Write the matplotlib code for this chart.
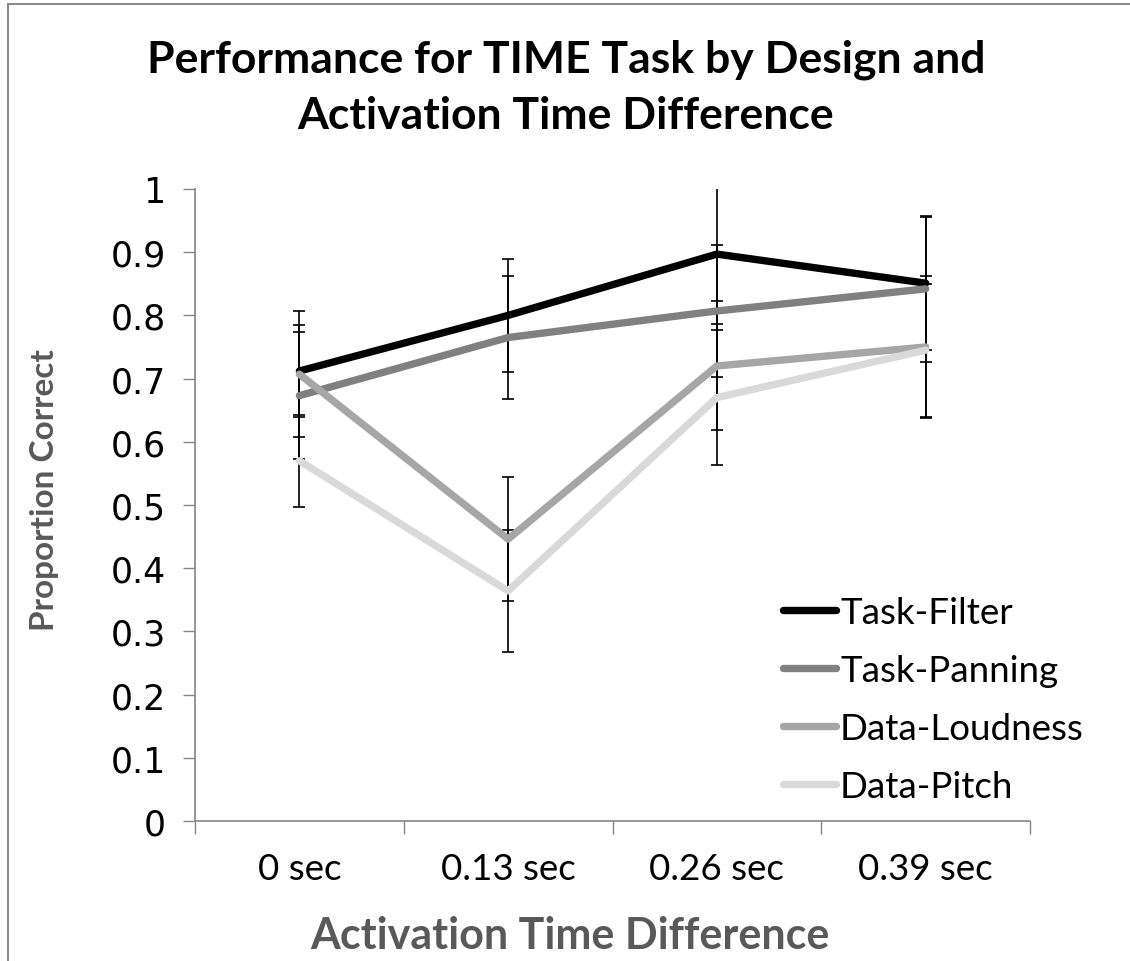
import matplotlib

matplotlib.use("Agg")
import matplotlib.pyplot as plt  # noqa: E402
from matplotlib.lines import Line2D  # noqa: E402

# data
categories = ["0 sec", "0.13 sec", "0.26 sec", "0.39 sec"]
series = ["Task-Filter", "Task-Panning", "Data-Loudness", "Data-Pitch"]
task_filter = [0.712, 0.800, 0.897, 0.851]
task_panning = [0.673, 0.765, 0.807, 0.842]
data_loudness = [0.707, 0.446, 0.720, 0.750]
data_pitch = [0.570, 0.364, 0.670, 0.745]
err_filter = [0.073, 0.090, 0.111, 0.105]
err_panning = [0.100, 0.098, 0.105, 0.115]
err_loudness = [0.100, 0.098, 0.102, 0.113]
err_pitch = [0.073, 0.097, 0.107, 0.105]
y_ticks = [0, 0.1, 0.2, 0.3, 0.4, 0.5, 0.6, 0.7, 0.8, 0.9, 1]
y_ticklabels = ["0", "0.1", "0.2", "0.3", "0.4", "0.5", "0.6", "0.7", "0.8", "0.9", "1"]

COLORS = ["#000000", "#808080", "#a6a6a6", "#d9d9d9"]
AXIS = "#868686"
LABEL = "#595959"
FONT = "Lato"

W, H = 1130, 962
fig = plt.figure(figsize=(W / 100, H / 100), dpi=100)
fig.patch.set_facecolor("white")

# outer chart-area border (left and top edges visible in the reference)
fig.add_artist(Line2D([8 / W, 8 / W], [0, 1 - 5 / H], color="#8c8c8c", lw=1.5))
fig.add_artist(Line2D([8 / W, 1], [1 - 5 / H, 1 - 5 / H], color="#8c8c8c", lw=1.5))

ax = fig.add_axes([195 / W, (H - 822) / H, 835 / W, 632 / H])
xs = list(range(len(categories)))
values = [task_filter, task_panning, data_loudness, data_pitch]
errors = [err_filter, err_panning, err_loudness, err_pitch]

for vals, errs in zip(values, errors):
    ax.errorbar(xs, vals, yerr=errs, fmt="none", ecolor="black", elinewidth=1.2,
                capsize=4, capthick=1.2, zorder=2)
for name, vals, col in zip(series, values, COLORS):
    ax.plot(xs, vals, color=col, lw=5.3, solid_capstyle="round",
            solid_joinstyle="round", label=name, zorder=3)

ax.set_xlim(-0.5, len(categories) - 0.5)
ax.set_ylim(0, 1)
ax.set_yticks(y_ticks)
ax.set_yticklabels(y_ticklabels, fontsize=25, family="DejaVu Sans")
ax.set_xticks(xs)
ax.set_xticklabels(categories, fontsize=26.5, family=FONT)
ax.set_xticks([x - 0.5 for x in xs] + [len(categories) - 0.5], minor=True)
ax.tick_params(axis="x", which="major", length=0, pad=22)
ax.tick_params(axis="x", which="minor", length=9, width=1, color=AXIS, direction="out")
ax.tick_params(axis="y", length=9, width=1, color=AXIS, direction="out", pad=12)
for s in ("top", "right"):
    ax.spines[s].set_visible(False)
for s in ("left", "bottom"):
    ax.spines[s].set_color(AXIS)
    ax.spines[s].set_linewidth(1.2)

ax.set_xlabel("Activation Time Difference", fontsize=31, fontweight="bold",
              color=LABEL, family=FONT)
ax.xaxis.set_label_coords((570 - 195) / 835, (822 - 936) / 632)
ax.xaxis.label.set_va("center")
ax.set_ylabel("Proportion Correct", fontsize=24, fontweight="bold",
              color=LABEL, family=FONT)
ax.yaxis.set_label_coords((45 - 195) / 835, (822 - 490) / 632)
ax.yaxis.label.set_va("center")
fig.text(566 / W, 1 - 88 / H, "Performance for TIME Task by Design and\nActivation Time Difference",
         ha="center", va="center", fontsize=32, fontweight="bold", family=FONT,
         linespacing=1.47)

leg = ax.legend(loc="lower left", bbox_to_anchor=(783 / W, (H - 804) / H),
                bbox_transform=fig.transFigure, frameon=False,
                handlelength=1.45, handletextpad=0.1, labelspacing=0.68,
                borderpad=0, borderaxespad=0, prop={"family": FONT, "size": 26.5})
for line in leg.get_lines():
    line.set_linewidth(5.3)

fig.savefig("out.png", dpi=100)
